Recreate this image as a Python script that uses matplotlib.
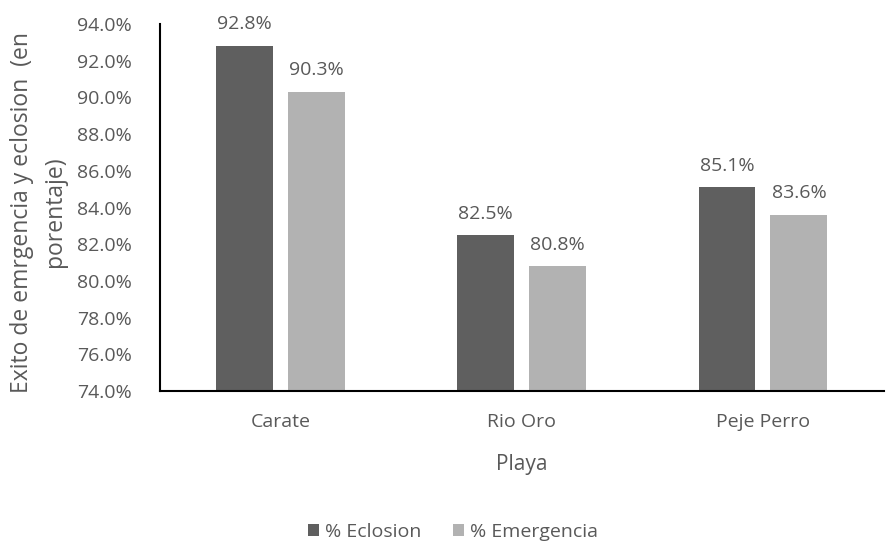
import matplotlib
matplotlib.use("Agg")
import matplotlib.pyplot as plt
import numpy as np
from matplotlib.ticker import FuncFormatter, MultipleLocator

categories = ["Carate", "Rio Oro", "Peje Perro"]
eclosion = [92.8, 82.5, 85.1]
emergencia = [90.3, 80.8, 83.6]
series_names = ["% Eclosion", "% Emergencia"]

plt.rcParams["font.family"] = ["Open Sans", "DejaVu Sans"]
text_color = "#595959"
dark = "#5f5f5f"
light = "#b2b2b2"

fig = plt.figure(figsize=(8.88, 5.44), dpi=100)
ax = fig.add_axes([0.18, 0.281, 0.815, 0.675])

x = np.arange(len(categories))
w = 0.236
gap = 0.062
b1 = ax.bar(x - (w + gap) / 2, eclosion, w, color=dark, label=series_names[0])
b2 = ax.bar(x + (w + gap) / 2, emergencia, w, color=light, label=series_names[1])

for bars, vals in ((b1, eclosion), (b2, emergencia)):
    for r, v in zip(bars, vals):
        ax.annotate(f"{v:.1f}%", (r.get_x() + r.get_width() / 2, v),
                    xytext=(0, 9), textcoords="offset points",
                    ha="center", va="bottom", fontsize=14, color=text_color)

ax.set_ylim(74, 94)
ax.set_xlim(-0.5, 2.5)
ax.yaxis.set_major_locator(MultipleLocator(2))
ax.yaxis.set_major_formatter(FuncFormatter(lambda v, p: f"{v:.1f}%"))
ax.set_xticks(x)
ax.set_xticklabels(categories)
ax.tick_params(axis="both", length=0, labelsize=14, colors=text_color)
ax.tick_params(axis="x", pad=16)
ax.tick_params(axis="y", pad=20)

for s in ("top", "right"):
    ax.spines[s].set_visible(False)
for s in ("left", "bottom"):
    ax.spines[s].set_color("black")
    ax.spines[s].set_linewidth(1.5)

ax.set_xlabel("Playa", fontsize=15, color=text_color, labelpad=16)
fig.text(0.043, 0.61, "Exito de emrgencia y eclosion  (en\nporentaje)",
         rotation=90, ha="center", va="center", fontsize=16.5,
         color=text_color, multialignment="center", linespacing=1.5)

fig.legend(handles=[b1, b2], labels=series_names, loc="center",
           bbox_to_anchor=(0.51, 0.022), ncol=2, frameon=False,
           fontsize=14, labelcolor=text_color, handlelength=0.6,
           handleheight=0.6, handletextpad=0.3, columnspacing=1.6)

fig.savefig("out.png", dpi=100)
